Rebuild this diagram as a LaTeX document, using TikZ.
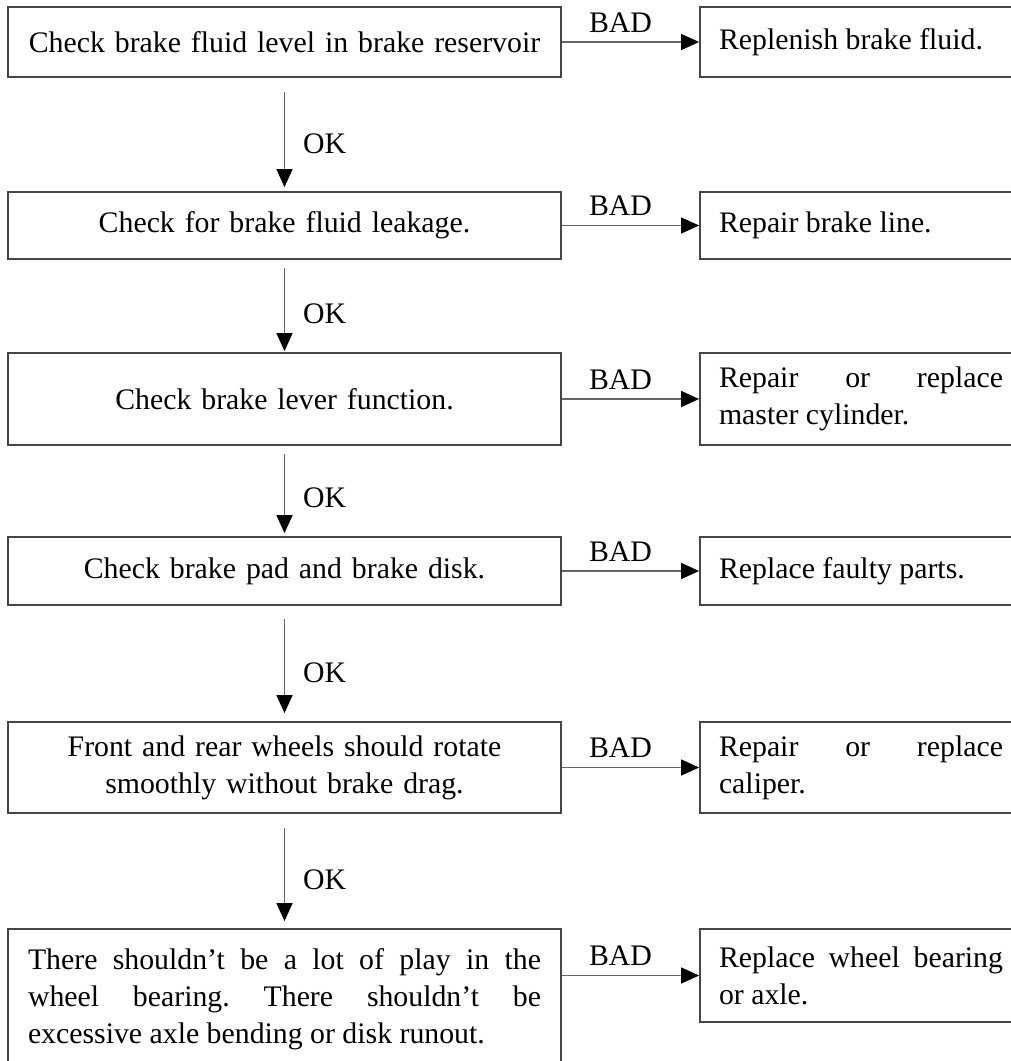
\documentclass[tikz,border=0pt]{standalone}
\usepackage{fontspec}
\setmainfont{Liberation Serif}
\usetikzlibrary{arrows.meta}
\definecolor{boxgray}{RGB}{70,70,70}
\definecolor{linegray}{RGB}{100,100,100}

\begin{document}
\begin{tikzpicture}[x=1pt,y=-1pt,
	font=\fontsize{29.8}{37}\selectfont\frenchspacing,
	check/.style={draw=boxgray, line width=1.8pt, text width=533pt, inner xsep=10pt, inner ysep=2pt, align=center},
	fix/.style={draw=boxgray, line width=1.8pt, text width=284pt, inner xsep=19pt, inner ysep=2pt, align=justify},
	flow/.style={draw=linegray, line width=1.4pt, -{Triangle[length=18pt,width=16pt,color=black]}},
	bad/.style={above, inner sep=0pt, yshift=9pt, xshift=-10pt},
	ok/.style={right, inner sep=0pt, xshift=18pt, pos=.58}]
	
	\useasboundingbox (0,0) rectangle (1011,1061);
	\clip (0,0) rectangle (1011,1061);
	
	% checks (left column)
	\node[check, minimum height=70pt] (check1) at (284.5,42) {Check brake fluid level in brake reservoir};
	\node[check, minimum height=67pt] (check2) at (284.5,225.5) {Check for brake fluid leakage.};
	\node[check, minimum height=92pt] (check3) at (284.5,399) {Check brake lever function.};
	\node[check, minimum height=68pt] (check4) at (284.5,571) {Check brake pad and brake disk.};
	\node[check, minimum height=91pt] (check5) at (284.5,767.5) {Front and rear wheels should rotate\\smoothly without brake drag.};
	\node[check, text width=513pt, inner xsep=20pt, align=justify, minimum height=140pt] (check6) at (284.5,999) {There shouldn't be a lot of play in the\linebreak wheel bearing. There shouldn't be\linebreak excessive axle bending or disk runout.};
	
	% remedies (right column)
	\node[fix, minimum height=70pt] (fix1) at (861,42) {Replenish brake fluid.};
	\node[fix, minimum height=67pt] (fix2) at (861,225.5) {Repair brake line.};
	\node[fix, minimum height=92pt] (fix3) at (861,399) {Repair or replace\linebreak master cylinder.};
	\node[fix, minimum height=68pt] (fix4) at (861,571) {Replace faulty parts.};
	\node[fix, minimum height=91pt] (fix5) at (861,767.5) {Repair or replace\linebreak caliper.};
	\node[fix, minimum height=93pt] (fix6) at (861,975.5) {Replace wheel bearing\linebreak or axle.};
	
	\draw[flow, shorten <=14pt, shorten >=4pt] (check1) -- node[ok]{OK} (check2);
	\draw[flow, shorten <=8pt, shorten >=1pt] (check2) -- node[ok]{OK} (check3);
	\draw[flow, shorten <=8pt, shorten >=3pt] (check3) -- node[ok]{OK} (check4);
	\draw[flow, shorten <=13pt, shorten >=8pt] (check4) -- node[ok]{OK} (check5);
	\draw[flow, shorten <=14pt, shorten >=7pt] (check5) -- node[ok]{OK} (check6);
	
	\draw[flow] (check1.east |- fix1.west) -- node[bad]{BAD} (fix1.west);
	\draw[flow] (check2.east |- fix2.west) -- node[bad]{BAD} (fix2.west);
	\draw[flow] (check3.east |- fix3.west) -- node[bad]{BAD} (fix3.west);
	\draw[flow] (check4.east |- fix4.west) -- node[bad]{BAD} (fix4.west);
	\draw[flow] (check5.east |- fix5.west) -- node[bad]{BAD} (fix5.west);
	\draw[flow] (check6.east |- fix6.west) -- node[bad]{BAD} (fix6.west);
	
\end{tikzpicture}
\end{document}
